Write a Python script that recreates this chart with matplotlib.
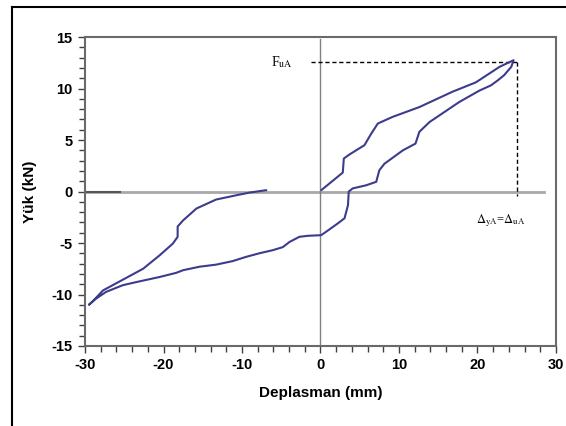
import matplotlib.pyplot as plt
from matplotlib.lines import Line2D
from matplotlib.ticker import MultipleLocator

disp = [0.1, 2.84, 2.97, 3.7, 5.6, 6.45, 7.3, 9.2, 12.6, 16.85, 19.8, 21.5, 22.8, 24.6,
        24.3, 23.4, 22.6, 21.7, 20.25, 17.7, 13.9, 12.6, 12.1, 10.5, 8.15, 7.5, 7.1, 5.8, 4.1,
        3.6, 3.5, 3.06, 2.2, 0.73, 0.08, -1.6, -2.7, -3.95, -4.8, -6.1, -7.8, -9.5, -11.2,
        -13.3, -15.4, -17.5, -18.4, -20.5, -23.5, -25.2, -27.3, -28.6, -29.5,
        -29.0, -27.7, -26.0, -22.6, -20.5, -18.8, -18.2, -18.2, -17.5, -15.8, -13.3, -10.7,
        -9.0, -6.9]
load = [0.13, 1.84, 3.2, 3.6, 4.5, 5.6, 6.6, 7.25, 8.2, 9.7, 10.6, 11.45, 12.1, 12.75,
        12.1, 11.3, 10.8, 10.3, 9.8, 8.7, 6.75, 5.8, 4.65, 4.0, 2.7, 2.07, 0.94, 0.6, 0.3,
        0.0, -1.33, -2.6, -3.1, -3.9, -4.24, -4.3, -4.4, -4.9, -5.4, -5.7, -6.0, -6.35, -6.76,
        -7.1, -7.3, -7.64, -7.9, -8.3, -8.8, -9.1, -9.74, -10.4, -11.0,
        -10.65, -9.6, -8.9, -7.5, -6.2, -5.05, -4.4, -3.4, -2.8, -1.65, -0.78, -0.36,
        -0.1, 0.13]

F_uA = 12.6
delta_uA = 25.0
zero_seg = [-30, -25.6]

plt.rcParams["axes.unicode_minus"] = False
plt.rcParams["mathtext.fontset"] = "stix"

fig = plt.figure(figsize=(5.66, 4.26), dpi=100)
ax = fig.add_axes([0.1502, 0.1878, 0.8321, 0.7253])

ax.plot([-30, 28.5], [0, 0], color="#a8a8a8", lw=2, zorder=1)
ax.plot(zero_seg, [0, 0], color="#555555", lw=1.5, zorder=2)
ax.plot([0, 0], [-15, 14.8], color="#808080", lw=1, zorder=1)
ax.plot(disp, load, color="#3c3c8c", lw=1.5, zorder=3,
        solid_joinstyle="round", solid_capstyle="round")

ax.plot([-1.2, delta_uA], [F_uA, F_uA], color="black", lw=1, ls=(0, (3, 2)))
ax.plot([delta_uA, delta_uA], [F_uA, -0.4], color="black", lw=1, ls=(0, (3, 2)))

ax.text(-3.6, F_uA, r"F$_{\mathrm{uA}}$", ha="right", va="center",
        fontsize=10, family="Liberation Serif")
ax.text(22.9, -2.8, r"$\Delta_{\mathrm{yA}}$=$\Delta_{\mathrm{uA}}$", ha="center", va="center",
        fontsize=9, family="Liberation Serif")

ax.set_xlim(-30, 30)
ax.set_ylim(-15, 15)
ax.xaxis.set_major_locator(MultipleLocator(10))
ax.xaxis.set_minor_locator(MultipleLocator(2))
ax.yaxis.set_major_locator(MultipleLocator(5))
ax.yaxis.set_minor_locator(MultipleLocator(1))
ax.tick_params(which="major", length=5, width=1, color="#404040", pad=4)
ax.tick_params(which="minor", length=4, width=1, color="#404040")
for s in ax.spines.values():
    s.set_color("#6a6a6a")
    s.set_linewidth(1.5)
for lab in ax.get_xticklabels() + ax.get_yticklabels():
    lab.set_family("Liberation Sans")
    lab.set_fontweight("bold")
    lab.set_fontsize(10.5)

ax.set_xlabel("Deplasman (mm)", family="Liberation Sans", fontweight="bold", fontsize=11, labelpad=10)
ax.set_ylabel("Yük (kN)", family="Liberation Sans", fontweight="bold", fontsize=11, labelpad=10)

fig.add_artist(Line2D([12 / 566, 1], [1 - 7 / 426, 1 - 7 / 426], color="black", lw=1.5))
fig.add_artist(Line2D([12 / 566, 12 / 566], [0, 1 - 7 / 426], color="black", lw=1.5))

fig.savefig("out.png", dpi=100)
